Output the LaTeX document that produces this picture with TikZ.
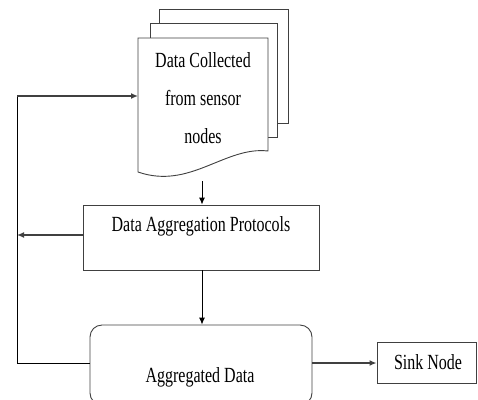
\documentclass[tikz,border=0pt]{standalone}
\usepackage{fontspec}
\setmainfont{Liberation Serif}
\usetikzlibrary{arrows.meta}
\newcommand{\tall}[1]{\scalebox{1}[1.35]{#1}}
\begin{document}
\begin{tikzpicture}[x=1pt,y=-1pt,
  boxline/.style={draw=black!75, line width=0.9pt},
  label/.style={font=\fontsize{16}{16}\selectfont, inner sep=0pt},
  flow/.style={draw=black, line width=0.9pt, -{Latex[length=7pt,width=6pt]}},
  side/.style={draw=black!75, line width=1.8pt, -{Latex[length=7pt,width=6pt]}},
  loop/.style={draw=black, line width=0.9pt}]
\useasboundingbox (0,0) rectangle (478,399);
\clip (0,0) rectangle (478,399);

% stacked documents: back, middle, front with wavy bottom
\path[boxline, fill=white] (159,9) rectangle (288,123);
\path[boxline, fill=white] (150,23) rectangle (277,137);
\path[boxline, fill=white] (138,38) -- (268,38) -- (268,151)
   .. controls (225,146) and (190,190) .. (138,172) -- cycle;
\node[label, align=center] (docs) at (203,98)
  {\tall{Data Collected}\\[22pt]\tall{from sensor}\\[22pt]\tall{nodes}};
\coordinate (docbot) at (202,181);
\coordinate (docin) at (138,96);

% aggregation protocols box
\node[boxline, minimum width=236pt, minimum height=65pt, inner sep=0pt] (agp) at (201,237.5) {};
\node[label] (agptext) at (201,226) {\tall{Data Aggregation Protocols}};

% aggregated data box (runs past the lower edge)
\node[boxline, rounded corners=12pt, minimum width=222pt, minimum height=80pt, inner sep=0pt] (agg) at (201,365) {};
\node[label] (aggtext) at (200,377) {\tall{Aggregated Data}};

% sink node
\node[boxline, minimum width=99pt, minimum height=41pt, inner sep=0pt] (sink) at (426.5,362.5) {};
\node[label] (sinktext) at (428,362) {\tall{Sink Node}};

% left feedback rail
\coordinate (railbot) at (17,363);
\coordinate (railtop) at (17,96);
\coordinate (railmid) at (17,235);

% connectors
\draw[flow] (docbot) -- (docbot |- agp.north);
\draw[flow] (agp.south -| 202,0) -- (agg.north -| 202,0);
\draw[side] (agg.east |- 0,363) -- (sink.west |- 0,363);
\draw[loop] (agg.west |- railbot) -- (railbot) -- (railtop);
\draw[side] (railtop) -- (docin);
\draw[side] (agp.west |- railmid) -- (railmid);
\end{tikzpicture}
\end{document}
